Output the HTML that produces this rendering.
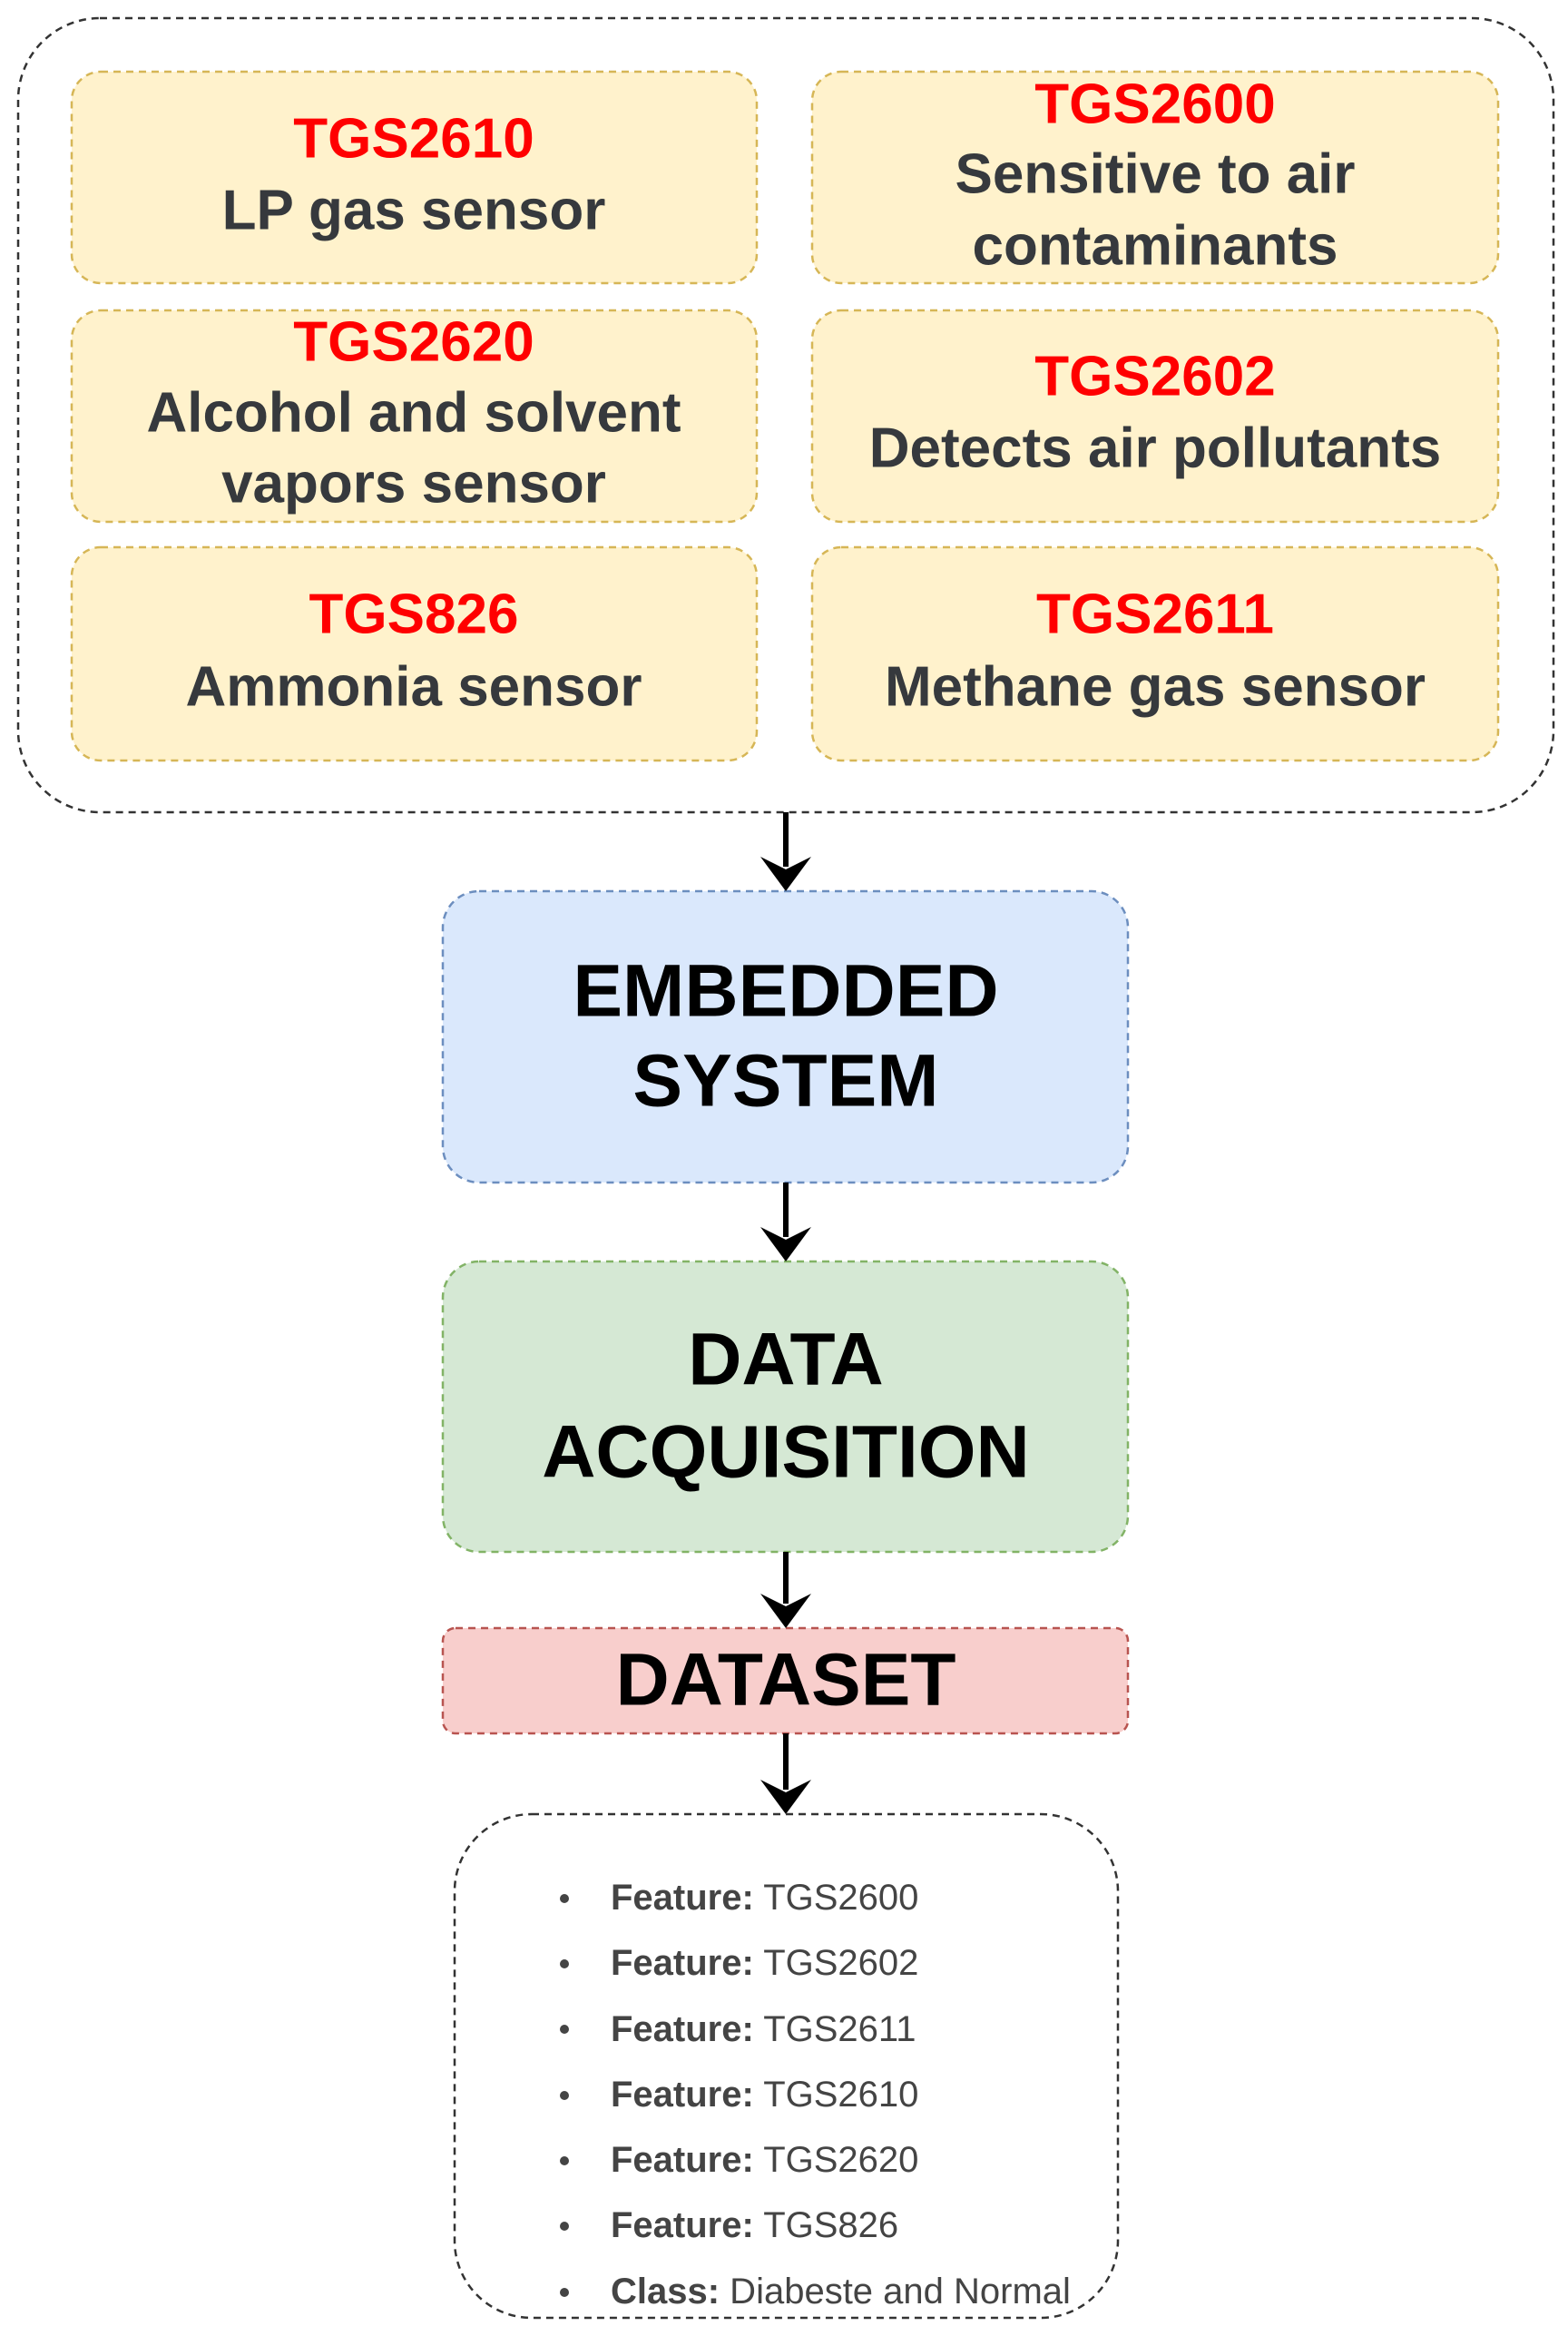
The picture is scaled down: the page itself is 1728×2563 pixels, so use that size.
<!DOCTYPE html>
<html><head><meta charset="utf-8"><style>
html,body{margin:0;padding:0;background:#fff;}
svg{display:block;}
text{font-family:"Liberation Sans",Arial,sans-serif;}
</style></head><body>
<svg width="1728" height="2563" viewBox="0 0 1728 2563" xmlns="http://www.w3.org/2000/svg">
<rect x="20" y="20" width="1692" height="875" rx="90" fill="#fff" stroke="#333" stroke-width="2.5" stroke-dasharray="8,6"/>
<g fill="#fff2cc" stroke="#d6b656" stroke-width="2.5" stroke-dasharray="8,6">
<rect x="79" y="79" width="755" height="233" rx="32"/>
<rect x="895" y="79" width="756" height="233" rx="32"/>
<rect x="79" y="342" width="755" height="233" rx="32"/>
<rect x="895" y="342" width="756" height="233" rx="32"/>
<rect x="79" y="603" width="755" height="235" rx="32"/>
<rect x="895" y="603" width="756" height="235" rx="32"/>
</g>
<g font-weight="bold" font-size="62" text-anchor="middle" dominant-baseline="central">
<text x="456" y="153" fill="#ff0000">TGS2610</text>
<text x="456" y="232" fill="#36393d">LP gas sensor</text>
<text x="1273" y="115" fill="#ff0000">TGS2600</text>
<text x="1273" y="192" fill="#36393d">Sensitive to air</text>
<text x="1273" y="271" fill="#36393d">contaminants</text>
<text x="456" y="377" fill="#ff0000">TGS2620</text>
<text x="456" y="455" fill="#36393d">Alcohol and solvent</text>
<text x="456" y="533" fill="#36393d">vapors sensor</text>
<text x="1273" y="415" fill="#ff0000">TGS2602</text>
<text x="1273" y="494" fill="#36393d">Detects air pollutants</text>
<text x="456" y="677" fill="#ff0000">TGS826</text>
<text x="456" y="757" fill="#36393d">Ammonia sensor</text>
<text x="1273" y="677" fill="#ff0000">TGS2611</text>
<text x="1273" y="757" fill="#36393d">Methane gas sensor</text>
</g>
<rect x="488" y="982" width="755" height="321" rx="40" fill="#dae8fc" stroke="#6c8ebf" stroke-width="2.5" stroke-dasharray="8,6"/>
<rect x="488" y="1390" width="755" height="320" rx="40" fill="#d5e8d4" stroke="#82b366" stroke-width="2.5" stroke-dasharray="8,6"/>
<rect x="488" y="1794" width="755" height="116" rx="14" fill="#f8cecc" stroke="#b85450" stroke-width="2.5" stroke-dasharray="8,6"/>
<g font-weight="bold" font-size="82" text-anchor="middle" dominant-baseline="central" fill="#000">
<text x="866" y="1092">EMBEDDED</text>
<text x="866" y="1191">SYSTEM</text>
<text x="866" y="1498">DATA</text>
<text x="866" y="1600">ACQUISITION</text>
<text x="866" y="1851">DATASET</text>
</g>
<g stroke="#000" stroke-width="6">
<line x1="866" y1="895" x2="866" y2="955"/>
<line x1="866" y1="1303" x2="866" y2="1363"/>
<line x1="866" y1="1710" x2="866" y2="1767"/>
<line x1="866" y1="1910" x2="866" y2="1972"/>
</g>
<g fill="#000">
<polygon points="838,944 866,958 894,944 866,982"/>
<polygon points="838,1352 866,1366 894,1352 866,1390"/>
<polygon points="838,1756 866,1770 894,1756 866,1794"/>
<polygon points="838,1961 866,1975 894,1961 866,1999"/>
</g>
<rect x="501" y="1999" width="731" height="555" rx="85" fill="#fff" stroke="#333" stroke-width="2.5" stroke-dasharray="8,6"/>
<g font-size="40" fill="#444" dominant-baseline="central">
<circle cx="622" cy="2092" r="5"/><circle cx="622" cy="2164" r="5"/><circle cx="622" cy="2236" r="5"/><circle cx="622" cy="2309" r="5"/><circle cx="622" cy="2381" r="5"/><circle cx="622" cy="2453" r="5"/><circle cx="622" cy="2526" r="5"/>
<text x="673" y="2091"><tspan font-weight="bold">Feature:</tspan> TGS2600</text>
<text x="673" y="2163"><tspan font-weight="bold">Feature:</tspan> TGS2602</text>
<text x="673" y="2236"><tspan font-weight="bold">Feature:</tspan> TGS2611</text>
<text x="673" y="2308"><tspan font-weight="bold">Feature:</tspan> TGS2610</text>
<text x="673" y="2380"><tspan font-weight="bold">Feature:</tspan> TGS2620</text>
<text x="673" y="2452"><tspan font-weight="bold">Feature:</tspan> TGS826</text>
<text x="673" y="2525"><tspan font-weight="bold">Class:</tspan> Diabeste and Normal</text>
</g>
</svg>
</body></html>
